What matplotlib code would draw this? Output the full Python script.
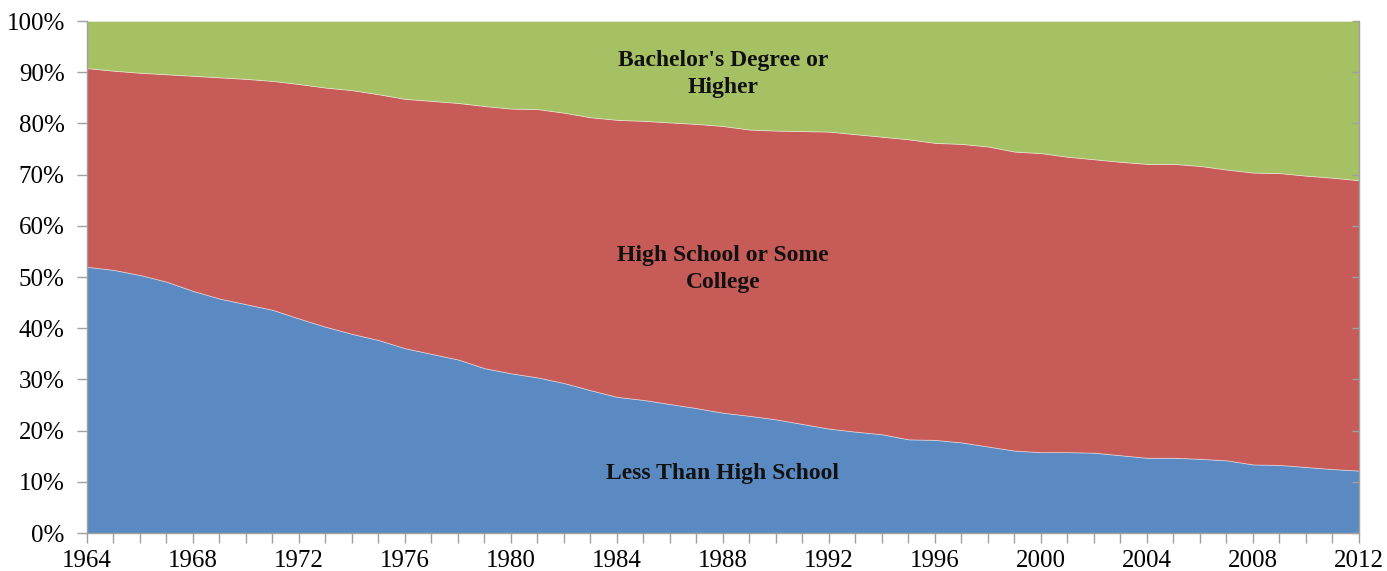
"""
Educational attainment shares, 1964-2012, as a 100% stacked area chart.
"""

import matplotlib
matplotlib.use("Agg")
import matplotlib.pyplot as plt
from matplotlib.lines import TICKLEFT
from matplotlib.ticker import MultipleLocator, FuncFormatter

YEARS = list(range(1964, 2013))

# shares in percent
LESS_THAN_HS = [52.0, 51.4, 50.4, 49.1, 47.3, 45.8, 44.7, 43.6, 41.9, 40.3,
                38.9, 37.7, 36.1, 35.0, 33.9, 32.2, 31.2, 30.4, 29.3, 27.9,
                26.6, 26.0, 25.2, 24.4, 23.5, 22.9, 22.2, 21.3, 20.4, 19.8,
                19.3, 18.3, 18.2, 17.7, 16.9, 16.1, 15.8, 15.8, 15.7, 15.2,
                14.7, 14.7, 14.5, 14.2, 13.4, 13.3, 12.9, 12.5, 12.2]
HS_SOME_COLLEGE = [38.8, 38.9, 39.5, 40.5, 42.0, 43.2, 44.0, 44.7, 45.8, 46.7,
                   47.6, 48.0, 48.7, 49.4, 50.1, 51.2, 51.7, 52.4, 52.8, 53.3,
                   54.1, 54.5, 55.0, 55.5, 56.0, 55.9, 56.4, 57.2, 58.0, 58.1,
                   58.1, 58.6, 58.0, 58.3, 58.6, 58.4, 58.4, 57.7, 57.3, 57.3,
                   57.4, 57.4, 57.2, 56.8, 57.0, 57.0, 56.9, 56.9, 56.7]
BACHELORS = [9.2, 9.7, 10.1, 10.4, 10.7, 11.0, 11.3, 11.7, 12.3, 13.0,
             13.5, 14.3, 15.2, 15.6, 16.0, 16.6, 17.1, 17.2, 17.9, 18.8,
             19.3, 19.5, 19.8, 20.1, 20.5, 21.2, 21.4, 21.5, 21.6, 22.1,
             22.6, 23.1, 23.8, 24.0, 24.5, 25.5, 25.8, 26.5, 27.0, 27.5,
             27.9, 27.9, 28.3, 29.0, 29.6, 29.7, 30.2, 30.6, 31.1]

SERIES = ["Less Than High School", "High School or Some\nCollege",
          "Bachelor's Degree or\nHigher"]
COLORS = ["#5B8AC2", "#C65B57", "#A6C163"]
# where each series name sits inside its band (year, percent)
LABEL_POS = [(1988.0, 11.7), (1988.0, 51.6), (1988.0, 89.6)]

FONT = "Liberation Serif"
GRAY = "#A0A0A0"


def main():
    fig = plt.figure(figsize=(13.87, 5.71), dpi=100)
    ax = fig.add_axes([0.0627, 0.0665, 0.9171, 0.8967])

    ax.stackplot(YEARS, LESS_THAN_HS, HS_SOME_COLLEGE, BACHELORS,
                 colors=COLORS, edgecolor=(1, 1, 1, 0.45), linewidth=0.6)

    for name, (x, y) in zip(SERIES, LABEL_POS):
        ax.text(x, y, name, ha="center", va="center", fontsize=17,
                fontweight="bold", family=FONT, color="#111111",
                linespacing=1.4)

    ax.set_xlim(YEARS[0], YEARS[-1])
    ax.set_ylim(0, 100)

    ax.xaxis.set_major_locator(MultipleLocator(4))
    ax.xaxis.set_minor_locator(MultipleLocator(1))
    ax.yaxis.set_major_locator(MultipleLocator(10))
    ax.yaxis.set_major_formatter(FuncFormatter(lambda v, _: f"{v:.0f}%"))

    ax.spines["top"].set_visible(False)
    for s in ("left", "bottom", "right"):
        ax.spines[s].set_color(GRAY)
        ax.spines[s].set_linewidth(1.0)

    ax.tick_params(axis="x", which="both", direction="out", length=7,
                   color=GRAY, width=1.0, pad=5)
    ax.tick_params(axis="y", which="major", direction="out", length=7,
                   color=GRAY, width=1.0, right=True, pad=9)
    for lbl in ax.get_xticklabels() + ax.get_yticklabels():
        lbl.set_fontfamily(FONT)
        lbl.set_fontsize(18)

    # right-hand ticks point inward, left-hand ones outward
    for t in ax.yaxis.get_major_ticks():
        t.tick2line.set_marker(TICKLEFT)
        t.tick2line.set_markersize(5)

    fig.savefig("out.png", dpi=100)


if __name__ == "__main__":
    main()
